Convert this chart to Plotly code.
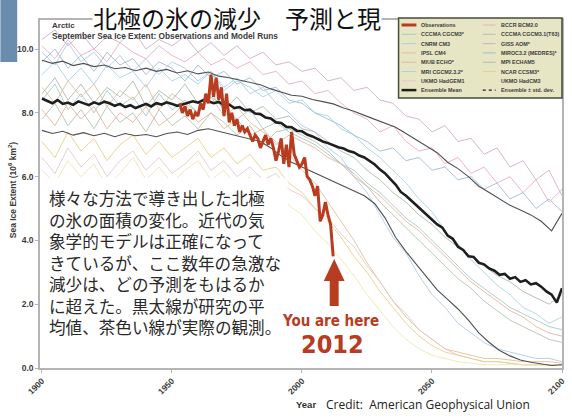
import plotly.graph_objects as go

# ---------------- data ----------------
years5 = list(range(1900, 2101, 5))
years4 = list(range(1900, 2101, 4))
years2 = list(range(1900, 2101, 2))
obs_years = list(range(1953, 2013))

obs_extent = [8.3, 8.0, 8.2, 7.9, 8.1, 7.8, 8.0, 7.9, 8.3, 8.1,
              8.6, 8.3, 9.2, 8.5, 9.1, 8.4, 8.8, 7.9, 8.6, 7.7,
              8.0, 7.6, 7.8, 7.4, 7.6, 7.4, 7.5, 7.3, 7.1, 7.3,
              7.2, 6.9, 7.1, 7.3, 7.0, 7.2, 6.9, 6.5, 6.8, 7.2,
              6.4, 7.0, 6.3, 7.4, 6.7, 6.5, 6.3, 6.4, 6.6, 6.0,
              5.9, 5.7, 5.4, 5.7, 4.6, 4.8, 5.2, 4.8, 4.5, 3.5]

ens_mean = [8.45, 8.38, 8.30, 8.40, 8.28, 8.32, 8.25, 8.36, 8.30, 8.24,
            8.33, 8.27, 8.35, 8.30, 8.22, 8.28, 8.18, 8.24, 8.15, 8.22,
            8.28, 8.20, 8.30, 8.26, 8.33, 8.28, 8.22, 8.26, 8.30, 8.36,
            8.32, 8.40, 8.36, 8.30, 8.34, 8.24, 8.26, 8.15, 8.18, 8.08,
            8.10, 7.98, 7.96, 7.85, 7.82, 7.70, 7.68, 7.56, 7.55, 7.44,
            7.42, 7.32, 7.26, 7.18, 7.10, 7.05, 6.98, 6.92, 6.88, 6.80,
            6.76, 6.66, 6.60, 6.48, 6.38, 6.22, 6.10, 5.92, 5.75, 5.52,
            5.40, 5.25, 5.10, 4.98, 4.80, 4.68, 4.50, 4.40, 4.15, 4.05,
            3.80, 3.70, 3.50, 3.48, 3.30, 3.25, 3.12, 3.05, 2.92, 2.95,
            2.80, 2.85, 2.70, 2.75, 2.62, 2.66, 2.55, 2.40, 2.30, 2.05,
            2.50]

ens_upper = [9.65, 9.55, 9.62, 9.48, 9.55, 9.45, 9.50, 9.38, 9.42, 9.32,
             9.40, 9.30, 9.36, 9.25, 9.32, 9.22, 9.28, 9.15, 9.10, 9.02,
             8.95, 8.88, 8.75, 8.66, 8.55, 8.52, 8.42, 8.35, 8.28, 8.15,
             8.05, 7.92, 7.80, 7.68, 7.55, 7.35, 7.15, 6.95, 6.75, 6.45,
             6.25, 6.00, 5.70, 5.50, 5.30, 5.10, 4.95, 4.80, 4.60, 4.30,
             4.85]

ens_lower = [7.45, 7.35, 7.42, 7.30, 7.38, 7.28, 7.36, 7.25, 7.35, 7.28,
             7.32, 7.25, 7.35, 7.40, 7.32, 7.45, 7.50, 7.42, 7.35, 7.25,
             7.18, 7.10, 6.90, 6.65, 6.45, 6.30, 6.15, 6.00, 5.85, 5.70,
             5.55, 5.40, 5.15, 4.70, 4.10, 3.65, 3.25, 2.85, 2.45, 2.15,
             1.85, 1.50, 1.10, 0.80, 0.55, 0.38, 0.25, 0.18, 0.12, 0.08,
             0.10]

bccr_bcm20 = [10.1, 9.7, 10.3, 9.8, 10.0, 9.6, 10.2, 9.9, 9.7, 10.1, 9.8, 9.6, 9.9, 9.5, 9.7, 9.4, 9.6, 9.2, 9.3, 8.9,
              9.0, 8.6, 8.7, 8.3, 8.0, 7.8, 7.4, 7.6, 7.1, 6.8, 6.9, 6.4, 6.6, 6.1, 6.3, 5.8, 6.0, 5.5, 5.9, 5.2, 5.6]
cccma_cgcm3 = [8.4, 8.9, 8.1, 8.6, 8.0, 8.7, 8.2, 8.5, 7.9, 8.6, 8.1, 8.4, 8.0, 8.5, 8.2, 7.8, 8.1, 7.5, 7.7, 7.4,
               7.2, 7.0, 6.7, 6.4, 6.2, 5.8, 5.5, 5.1, 4.7, 4.4, 4.0, 3.6, 3.2, 2.8, 2.5, 2.2, 1.9, 1.7, 1.5, 1.3, 1.2]
cccma_t63 = [7.8, 8.3, 7.6, 8.1, 7.5, 8.2, 7.7, 8.0, 7.4, 8.1, 7.6, 7.9, 7.5, 8.0, 7.7, 7.3, 7.6, 7.0, 7.4, 7.5,
             7.3, 7.1, 6.8, 6.4, 6.1, 5.7, 5.2, 4.8, 4.4, 4.0, 3.6, 3.2, 2.8, 2.5, 2.1, 1.8, 1.5, 1.3, 1.1, 0.9, 0.8]
cnrm_cm3 = [9.9, 9.5, 10.2, 9.6, 9.9, 9.4, 9.8, 9.3, 9.7, 9.2, 9.6, 9.4, 9.0, 9.3, 8.8, 9.1, 8.6, 8.8, 8.3, 8.0,
            7.6, 7.4, 6.9, 6.6, 6.0, 5.5, 4.8, 4.1, 3.6, 2.9, 2.3, 1.9, 1.4, 1.1, 0.8, 0.6, 0.5, 0.4, 0.3, 0.3, 0.2]
giss_aom = [10.3, 10.6, 10.1, 10.5, 10.0, 10.4, 10.2, 10.6, 10.0, 10.3, 10.1, 10.4, 9.9, 10.2, 9.8, 10.1, 9.7, 9.9, 9.5, 9.6,
            9.3, 9.4, 9.0, 9.1, 8.7, 8.8, 8.4, 8.3, 7.9, 7.8, 7.4, 7.6, 7.1, 7.2, 6.7, 6.9, 6.3, 6.5, 5.9, 6.2, 5.4]
ipsl_cm4 = [8.8, 8.3, 9.0, 8.5, 8.9, 8.2, 8.7, 8.4, 8.9, 8.1, 8.6, 8.3, 8.0, 8.5, 7.9, 8.2, 7.7, 7.4, 7.1, 6.7,
            6.2, 5.8, 5.2, 4.6, 4.0, 3.3, 2.7, 2.1, 1.6, 1.2, 0.9, 0.6, 0.5, 0.4, 0.3, 0.3, 0.25, 0.2, 0.2, 0.2, 0.15]
miroc_medres = [9.6, 10.0, 9.4, 9.8, 9.3, 9.9, 9.5, 9.7, 9.2, 9.6, 9.4, 9.0, 9.5, 9.1, 9.3, 8.9, 9.1, 8.7, 8.8, 8.4,
                8.3, 8.0, 7.8, 7.6, 7.3, 7.1, 6.8, 6.9, 6.5, 6.6, 6.2, 6.3, 5.9, 6.0, 5.6, 5.8, 5.3, 5.5, 5.0, 5.3, 4.9]
miub_echo = [8.1, 7.6, 8.3, 7.8, 8.2, 7.5, 8.0, 7.7, 8.2, 7.6, 7.9, 8.3, 7.7, 8.0, 7.5, 7.8, 7.3, 7.5, 7.0, 7.3,
             7.1, 6.9, 6.6, 6.4, 6.0, 5.7, 5.4, 5.0, 4.6, 4.3, 3.9, 3.5, 3.1, 2.7, 2.4, 2.1, 1.8, 1.6, 1.3, 1.1, 1.0]
mpi_echam5 = [8.6, 9.1, 8.4, 8.9, 8.3, 8.8, 8.5, 9.0, 8.2, 8.7, 8.4, 8.9, 8.3, 8.6, 8.1, 8.5, 8.0, 8.2, 7.8, 7.9,
              7.5, 7.4, 7.1, 6.8, 6.6, 6.2, 5.9, 5.5, 5.2, 4.8, 4.5, 4.1, 3.8, 3.5, 3.2, 2.9, 2.7, 2.4, 2.2, 2.0, 2.3]
mri_cgcm232 = [9.2, 9.6, 9.0, 9.4, 8.9, 9.5, 9.1, 9.3, 8.8, 9.4, 9.0, 9.2, 8.9, 9.3, 8.7, 9.0, 8.8, 8.5, 8.7, 8.3,
               8.4, 8.0, 7.9, 7.5, 7.3, 6.9, 6.6, 6.2, 5.8, 5.3, 4.9, 4.3, 3.9, 3.4, 3.0, 2.6, 2.3, 1.9, 1.7, 1.4, 1.6]
ncar_ccsm3 = [7.1, 6.6, 7.4, 6.8, 7.2, 6.5, 7.0, 7.3, 6.7, 7.1, 6.6, 6.9, 7.2, 6.6, 6.9, 6.4, 6.7, 6.2, 6.3, 5.8,
              5.5, 5.0, 4.6, 4.1, 3.5, 3.0, 2.4, 1.9, 1.4, 1.0, 0.7, 0.5, 0.4, 0.3, 0.2, 0.2, 0.15, 0.1, 0.1, 0.1, 0.1]
ukmo_hadcm3 = [6.2, 5.8, 6.5, 6.0, 6.4, 5.7, 6.1, 6.6, 5.9, 6.3, 5.8, 6.2, 6.5, 5.9, 6.2, 5.7, 6.0, 5.5, 5.6, 5.1,
               4.8, 4.3, 3.9, 3.4, 2.9, 2.3, 1.8, 1.3, 0.9, 0.6, 0.4, 0.3, 0.2, 0.15, 0.1, 0.1, 0.1, 0.1, 0.1, 0.1, 0.1]
ukmo_hadgem1 = [6.6, 6.1, 6.9, 6.3, 6.7, 6.0, 6.5, 6.8, 6.2, 6.6, 6.1, 6.4, 6.8, 6.2, 6.5, 6.0, 6.3, 5.9, 6.1, 5.6,
                5.4, 5.0, 4.7, 4.2, 3.8, 3.2, 2.7, 2.1, 1.7, 1.2, 0.9, 0.6, 0.4, 0.3, 0.2, 0.2, 0.15, 0.1, 0.1, 0.1, 0.1]

legend_left = ["Observations", "CCCMA CGCM3*", "CNRM CM3", "IPSL CM4",
               "MIUB ECHO*", "MRI CGCM2.3.2*", "UKMO HadGEM1", "Ensemble Mean"]
legend_right = ["BCCR BCM2.0", "CCCMA CGCM3.1(T63)", "GISS AOM*", "MIROC3.2 (MEDRES)*",
                "MPI ECHAM5", "NCAR CCSM3*", "UKMO HadCM3", "Ensemble \u00b1 std. dev."]

y_ticks = [0, 2, 4, 6, 8, 10]
x_ticks = [1900, 1950, 2000, 2050, 2100]

# ---------------- styles ----------------
C_OBS = "#b83c1f"
C_MEAN = "#1e1e1e"
C_STD = "#505050"
model_colors = {
    "CCCMA CGCM3*": "#a3cbc6", "CNRM CM3": "#b0cbe8", "IPSL CM4": "#dfc19a",
    "MIUB ECHO*": "#eab39c", "MRI CGCM2.3.2*": "#a8d4e3", "UKMO HadGEM1": "#e6c8cb",
    "BCCR BCM2.0": "#eaaec2", "CCCMA CGCM3.1(T63)": "#b6c2b0", "GISS AOM*": "#d0aecb",
    "MIROC3.2 (MEDRES)*": "#9dbcd2", "MPI ECHAM5": "#adbcae", "NCAR CCSM3*": "#ebcf85",
    "UKMO HadCM3": "#ece6b4",
}
models = [
    ("CCCMA CGCM3*", cccma_cgcm3), ("CNRM CM3", cnrm_cm3), ("IPSL CM4", ipsl_cm4),
    ("MIUB ECHO*", miub_echo), ("MRI CGCM2.3.2*", mri_cgcm232), ("UKMO HadGEM1", ukmo_hadgem1),
    ("BCCR BCM2.0", bccr_bcm20), ("CCCMA CGCM3.1(T63)", cccma_t63), ("GISS AOM*", giss_aom),
    ("MIROC3.2 (MEDRES)*", miroc_medres), ("MPI ECHAM5", mpi_echam5), ("NCAR CCSM3*", ncar_ccsm3),
    ("UKMO HadCM3", ukmo_hadcm3),
]

W, H = 572, 418
L, R, T, B = 40, 5, 20, 50
PW, PH = W - L - R, H - T - B


def PX(px):
    return (px - L) / PW


def PY(py):
    return (H - B - py) / PH


fig = go.Figure()
for name, vals in models:
    fig.add_trace(go.Scatter(x=years5, y=vals, mode="lines", name=name,
                             line=dict(color=model_colors[name], width=0.9)))
fig.add_trace(go.Scatter(x=years4, y=ens_upper, mode="lines", line=dict(color=C_STD, width=1.1)))
fig.add_trace(go.Scatter(x=years4, y=ens_lower, mode="lines", line=dict(color=C_STD, width=1.1)))
fig.add_trace(go.Scatter(x=years2, y=ens_mean, mode="lines", line=dict(color=C_MEAN, width=2.6)))
fig.add_trace(go.Scatter(x=obs_years, y=obs_extent, mode="lines", line=dict(color=C_OBS, width=3)))

shapes = []
annotations = []

# blue photo fragment top-left
shapes.append(dict(type="rect", xref="paper", yref="paper", x0=PX(0), x1=PX(17), y0=PY(62), y1=PY(0),
                   fillcolor="#6a8cad", line=dict(width=0), layer="above"))

# text box
shapes.append(dict(type="rect", xref="paper", yref="paper", x0=PX(41), x1=PX(290), y0=PY(360), y1=PY(178),
                   fillcolor="white", line=dict(width=0), layer="above"))

# legend box
shapes.append(dict(type="rect", xref="paper", yref="paper", x0=PX(402), x1=PX(567), y0=PY(98), y1=PY(18),
                   fillcolor="#e7e6c4", line=dict(color="#4a4a3e", width=1.5), layer="above"))
row_y = [25 + 9.3 * i for i in range(8)]
left_styles = [(C_OBS, 3, "solid")] + [(model_colors[n], 1, "solid") for n in legend_left[1:7]] + [(C_MEAN, 2.5, "solid")]
right_styles = [(model_colors[n], 1, "solid") for n in legend_right[:7]] + [(C_MEAN, 1.4, "dot")]
for labels, styles, sx0, sx1, tx in [(legend_left, left_styles, 405, 420, 423),
                                     (legend_right, right_styles, 487, 500, 503)]:
    for lab, (c, w, d), yy in zip(labels, styles, row_y):
        shapes.append(dict(type="line", xref="paper", yref="paper", x0=PX(sx0), x1=PX(sx1),
                           y0=PY(yy), y1=PY(yy), line=dict(color=c, width=w, dash=d), layer="above"))
        annotations.append(dict(xref="paper", yref="paper", x=PX(tx), y=PY(yy), xanchor="left", yanchor="middle",
                                text="<b>" + lab + "</b>", showarrow=False,
                                font=dict(family="Liberation Sans", size=5.4, color="#3c3c3c")))

# red arrow
ax = 337
arrow_path = (f"M {PX(ax)} {PY(259)} L {PX(ax + 10.5)} {PY(281)} L {PX(ax + 4.5)} {PY(281)} "
              f"L {PX(ax + 4.5)} {PY(306)} L {PX(ax - 4.5)} {PY(306)} L {PX(ax - 4.5)} {PY(281)} "
              f"L {PX(ax - 10.5)} {PY(281)} Z")
shapes.append(dict(type="path", xref="paper", yref="paper", path=arrow_path,
                   fillcolor=C_OBS, line=dict(width=0), layer="above"))

# title
annotations.append(dict(xref="paper", yref="paper", x=PX(92), y=PY(17), xanchor="left", yanchor="middle",
                        text="北極の氷の減少　予測と現", showarrow=False, bgcolor="white", borderpad=0,
                        font=dict(family="Noto Sans CJK JP", size=24, color="#111")))
annotations.append(dict(xref="paper", yref="paper", x=PX(50), y=PY(25), xanchor="left", yanchor="middle",
                        text="<b>Arctic</b>", showarrow=False,
                        font=dict(family="Liberation Sans", size=8, color="#3c3c3c")))
annotations.append(dict(xref="paper", yref="paper", x=PX(50), y=PY(36), xanchor="left", yanchor="middle",
                        text="<b>September Sea Ice Extent: Observations and Model Runs</b>", showarrow=False,
                        font=dict(family="Liberation Sans", size=8.3, color="#3c3c3c")))

# Japanese explanation
jp_lines = ["様々な方法で導き出した北極", "の氷の面積の変化。近代の気", "象学的モデルは正確になって",
            "きているが、ここ数年の急激な", "減少は、どの予測をもはるか", "に超えた。黒太線が研究の平",
            "均値、茶色い線が実際の観測。"]
annotations.append(dict(xref="paper", yref="paper", x=PX(47), y=PY(262), xanchor="left", yanchor="middle",
                        text="<br>".join(jp_lines), showarrow=False, align="left",
                        font=dict(family="Noto Sans CJK JP", size=16.6, color="#2a2a2a")))

# You are here
narrow = "Liberation Sans Narrow, DejaVu Sans Condensed, sans-serif"
annotations.append(dict(xref="paper", yref="paper", x=PX(333), y=PY(321), xanchor="center", yanchor="middle",
                        text="<b>You are here</b>", showarrow=False,
                        font=dict(family=narrow, size=15, color=C_OBS)))
annotations.append(dict(xref="paper", yref="paper", x=PX(335), y=PY(344), xanchor="center", yanchor="middle",
                        text="<b>2012</b>", showarrow=False,
                        font=dict(family=narrow, size=25, color=C_OBS)))

# axis titles / credit
annotations.append(dict(xref="paper", yref="paper", x=PX(12), y=PY(190), xanchor="center", yanchor="middle",
                        text="<b>Sea Ice Extent (10<sup>6</sup> km<sup>2</sup>)</b>", textangle=-90,
                        showarrow=False, font=dict(family="Liberation Sans", size=8.5, color="#3c3c3c")))
annotations.append(dict(xref="paper", yref="paper", x=PX(309), y=PY(405), xanchor="center", yanchor="middle",
                        text="<b>Year</b>", showarrow=False,
                        font=dict(family="Liberation Sans", size=9.5, color="#333")))
annotations.append(dict(xref="paper", yref="paper", x=PX(327), y=PY(405), xanchor="left", yanchor="middle",
                        text="Credit:\u00a0 American Geophysical Union", showarrow=False,
                        font=dict(family="Open Sans", size=12, color="#222")))

axis_col = "#b4b4b4"
fig.update_layout(
    width=W, height=H, autosize=False,
    margin=dict(l=L, r=R, t=T, b=B, pad=0),
    paper_bgcolor="white", plot_bgcolor="white",
    showlegend=False,
    shapes=shapes, annotations=annotations,
    xaxis=dict(range=[1899.24, 2100], tickvals=x_ticks, ticktext=[str(v) for v in x_ticks],
               tickangle=-45, showgrid=False, zeroline=False, showline=True, mirror=True,
               linecolor=axis_col, linewidth=1.5, ticks="outside", ticklen=3, tickcolor=axis_col,
               tickfont=dict(family="Liberation Sans", size=8.5, color="#3c3c3c", weight="bold")),
    yaxis=dict(range=[0, 10.91], tickvals=y_ticks, ticktext=[f"{v:.1f}" for v in y_ticks],
               showgrid=False, zeroline=False, showline=True, mirror=True,
               linecolor=axis_col, linewidth=1.5, ticks="outside", ticklen=3, tickcolor=axis_col,
               tickfont=dict(family="Liberation Sans", size=8.5, color="#3c3c3c", weight="bold")),
)

fig.write_html("out.html", config={"displayModeBar": False},
               post_script="document.body.style.margin='0px';")
